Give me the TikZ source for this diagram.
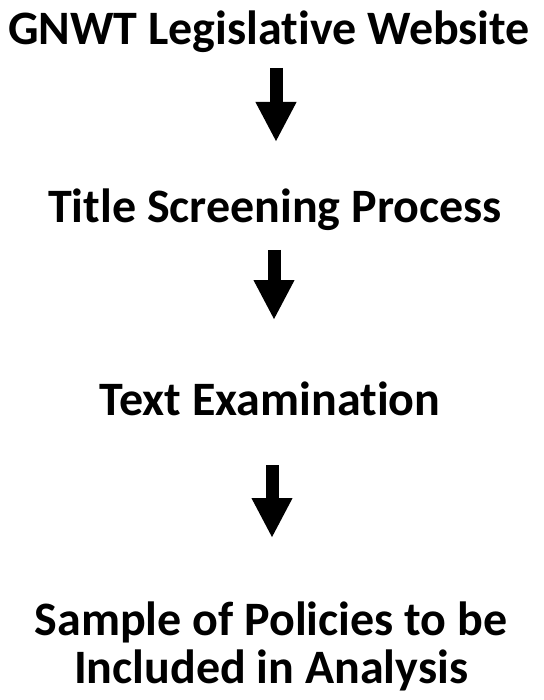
\documentclass[tikz,border=0pt]{standalone}
\usepackage{fontspec}
\setmainfont[Ligatures=NoCommon,Contextuals=NoAlternate]{Carlito}
\usetikzlibrary{arrows.meta}
\tikzset{
  lbl/.style={font=\bfseries\fontsize{48}{48}\selectfont, align=center, inner sep=0pt, anchor=base},
  bigarrow/.style={line width=13pt, -{Triangle[width=38pt,length=40pt]}}
}
\begin{document}
\begin{tikzpicture}[x=1pt,y=1pt]
\useasboundingbox (0,0) rectangle (543,-700);
\node[lbl] (t1) at (269,-45) {GNWT Legislative Website};
\node[lbl] (t2) at (275,-223) {Title Screening Process};
\node[lbl] (t3) at (270,-415) {Text Examination};
\node[lbl] (t4) at (271,-683) {Sample of Policies to be\\Included in Analysis};
\coordinate (a1s) at (276,-68);
\coordinate (a1e) at (276,-142);
\coordinate (a2s) at (274,-250);
\coordinate (a2e) at (274,-320);
\coordinate (a3s) at (272,-465);
\coordinate (a3e) at (272,-538);
\draw[bigarrow] (a1s) -- (a1e);
\draw[bigarrow] (a2s) -- (a2e);
\draw[bigarrow] (a3s) -- (a3e);
\end{tikzpicture}
\end{document}
